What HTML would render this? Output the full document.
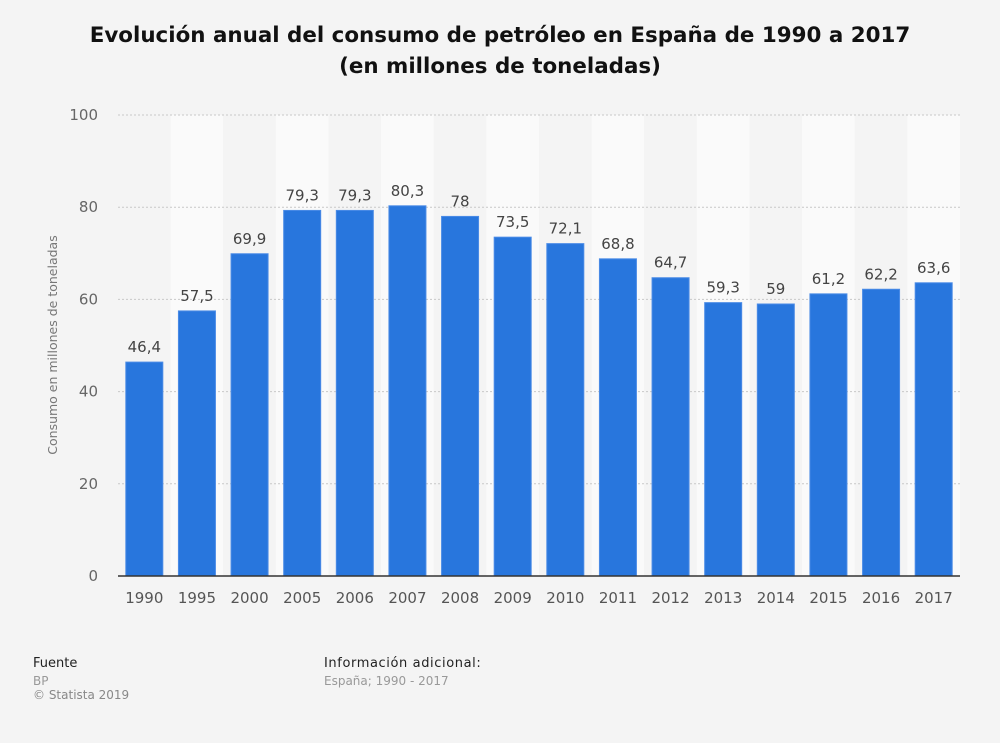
<!DOCTYPE html>
<html><head><meta charset="utf-8"><style>
body{margin:0;background:#f4f4f4;font-family:"DejaVu Sans","Liberation Sans",sans-serif;}
#wrap{position:relative;width:1000px;height:743px;background:#f4f4f4;}
.title{position:absolute;left:0;width:1000px;top:20px;text-align:center;font-weight:bold;font-size:21.4px;line-height:31px;color:#111;}
.ft{position:absolute;font-size:13px;}
</style></head><body>
<div id="wrap">
<div class="title">Evolución anual del consumo de petróleo en España de 1990 a 2017<br>(en millones de toneladas)</div>
<svg id="chart" width="1000" height="743" style="position:absolute;left:0;top:0"></svg>
<div class="ft" style="left:33px;top:656px;color:#222">Fuente</div>
<div class="ft" style="left:33px;top:674px;color:#999;font-size:12px">BP</div>
<div class="ft" style="left:33px;top:688px;color:#888;font-size:12px">© Statista 2019</div>
<div class="ft" style="left:324px;top:656px;color:#222;letter-spacing:0.6px">Información adicional:</div>
<div class="ft" style="left:324px;top:674px;color:#999;font-size:12px">España; 1990 - 2017</div>
</div>
<script>
const categories=["1990","1995","2000","2005","2006","2007","2008","2009","2010","2011","2012","2013","2014","2015","2016","2017"];
const values=[46.4,57.5,69.9,79.3,79.3,80.3,78,73.5,72.1,68.8,64.7,59.3,59,61.2,62.2,63.6];
const labels=["46,4","57,5","69,9","79,3","79,3","80,3","78","73,5","72,1","68,8","64,7","59,3","59","61,2","62,2","63,6"];
const yTicks=[0,20,40,60,80,100];
const svg=document.getElementById('chart');
const NS='http://www.w3.org/2000/svg';
const L=118,R=960,T=115,B=576,yMax=100;
const bw=(R-L)/categories.length;
const y=v=>B-(v/yMax)*(B-T);
const x=i=>L+i*bw;
function mk(tag,attrs){const e=document.createElementNS(NS,tag);for(const k in attrs)e.setAttribute(k,attrs[k]);svg.appendChild(e);return e;}
categories.forEach((c,i)=>{
  const r=mk('rect',{x:x(i),y:T,width:bw,height:B-T,fill:i%2?'#fafafa':'#f4f4f4'});
  
  
});
yTicks.forEach(t=>{
  if(t>0){const g=mk('line',{x1:L,x2:R,y1:y(t),y2:y(t),stroke:'#c8c8c8','stroke-dasharray':'2,2'});
  
  }
  const tx=mk('text',{x:98,y:y(t)+5,'text-anchor':'end','font-size':15,fill:'#666','font-family':'DejaVu Sans,sans-serif'});
  tx.textContent=t;
  
  
});
categories.forEach((c,i)=>{
  const cx=x(i)+bw/2;
  const b=mk('rect',{x:cx-18.5,y:y(values[i]),width:37,height:B-y(values[i]),fill:'#2876dd',stroke:'#4a8be6','stroke-width':1});
  
  
  const v=mk('text',{x:cx,y:y(values[i])-10,'text-anchor':'middle','font-size':15,fill:'#444','font-family':'DejaVu Sans,sans-serif'});
  v.textContent=labels[i];
  
  
  const xl=mk('text',{x:cx,y:603,'text-anchor':'middle','font-size':15,fill:'#555','font-family':'DejaVu Sans,sans-serif'});
  xl.textContent=c;
  
  
});
const ax=mk('line',{x1:L,x2:R,y1:B,y2:B,stroke:'#333','stroke-width':1.5});


const yt=mk('text',{x:0,y:0,transform:'translate(57,345) rotate(-90)','text-anchor':'middle','font-size':12.5,fill:'#777','font-family':'DejaVu Sans,sans-serif'});
yt.textContent='Consumo en millones de toneladas';


</script>
</body></html>
